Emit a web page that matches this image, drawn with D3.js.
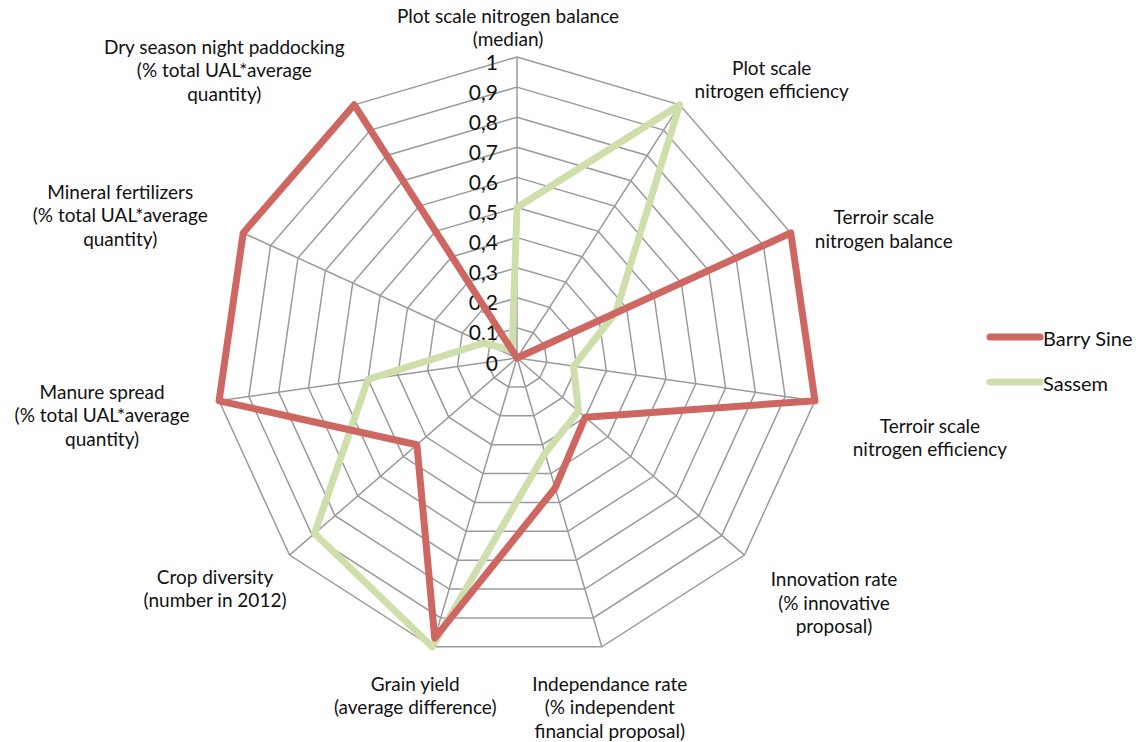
<!DOCTYPE html>
<html>
<head>
<meta charset="utf-8">
<script src="https://cdn.jsdelivr.net/npm/d3@7"></script>
<style>
  html, body { margin: 0; padding: 0; background: #fff; }
  svg { display: block; }
  text { font-family: Lato, "Open Sans", sans-serif; fill: #111; }
</style>
</head>
<body>
<svg id="chart" width="1142" height="742"></svg>
<script>
// ---- data ----
const categories = [
  "Plot scale nitrogen balance\n(median)",
  "Plot scale\nnitrogen efficiency",
  "Terroir scale\nnitrogen balance",
  "Terroir scale\nnitrogen efficiency",
  "Innovation rate\n(% innovative\nproposal)",
  "Independance rate\n(% independent\nfinancial proposal)",
  "Grain yield\n(average difference)",
  "Crop diversity\n(number in 2012)",
  "Manure spread\n(% total UAL*average\nquantity)",
  "Mineral fertilizers\n(% total UAL*average\nquantity)",
  "Dry season night paddocking\n(% total UAL*average\nquantity)"
];
const seriesNames = ["Barry Sine", "Sassem"];
const barrySine = [0, 0, 1, 1, 0.3, 0.45, 0.97, 0.44, 1, 1, 1];
const sassem    = [0.5, 1, 0.36, 0.19, 0.27, 0.33, 1, 0.89, 0.5, 0.12, 0.03];
const tickValues = [0, 0.1, 0.2, 0.3, 0.4, 0.5, 0.6, 0.7, 0.8, 0.9, 1];
const tickLabels = ["0", "0,1", "0,2", "0,3", "0,4", "0,5", "0,6", "0,7", "0,8", "0,9", "1"];

// ---- layout ----
const cx = 517, cy = 358, R = 301;
const colors = { "Barry Sine": "#CE6761", "Sassem": "#CFDFAC" };
// label block centre offsets from the outer vertex of each spoke
const labelOffsets = [[-9,-30],[92,-26],[93,-4.5],[115,36],[89.5,47],[8,60],[-17,48],[-74.5,33],[-117,14],[-123,-18],[-130,-35]];
const lineH = 23.5;

const svg = d3.select("#chart");
const g = svg.append("g").attr("transform", `translate(${cx},${cy})`);

const r = d3.scaleLinear().domain([0, 1]).range([0, R]);
const angle = d3.scaleLinear().domain([0, categories.length]).range([0, 2 * Math.PI]);
const pt = (i, v) => [r(v) * Math.sin(angle(i)), -r(v) * Math.cos(angle(i))];

// grid polygons
const gridLine = d3.lineRadial()
  .angle((d, i) => angle(i))
  .radius(d => r(d))
  .curve(d3.curveLinearClosed);

tickValues.filter(v => v > 0).forEach(v => {
  g.append("path")
    .attr("d", gridLine(categories.map(() => v)))
    .attr("fill", "none")
    .attr("stroke", "#9a9a9a")
    .attr("stroke-width", 1.5);
});
// spokes
categories.forEach((c, i) => {
  const [x, y] = pt(i, 1);
  g.append("line").attr("x1", 0).attr("y1", 0).attr("x2", x).attr("y2", y)
    .attr("stroke", "#9a9a9a").attr("stroke-width", 1.5);
});

// tick labels
tickValues.forEach((v, i) => {
  g.append("text")
    .attr("x", -19)
    .attr("y", -r(v) + 4)
    .attr("text-anchor", "end")
    .attr("dominant-baseline", "central")
    .style("font-size", "21px")
    .text(tickLabels[i]);
});

// series
const seriesLine = d3.lineRadial()
  .angle((d, i) => angle(i))
  .radius(d => r(d))
  .curve(d3.curveLinearClosed);

[["Sassem", sassem], ["Barry Sine", barrySine]].forEach(([name, vals]) => {
  g.append("path")
    .attr("d", seriesLine(vals))
    .attr("fill", "none")
    .attr("stroke", colors[name])
    .attr("stroke-width", 7)
    .attr("stroke-linejoin", "round")
    .attr("stroke-linecap", "round");
});

// axis labels
categories.forEach((c, i) => {
  const [x, y] = pt(i, 1);
  const lines = c.split("\n");
  const bx = x + labelOffsets[i][0], by = y + labelOffsets[i][1];
  const t = g.append("text").attr("text-anchor", "middle").style("font-size", "19px");
  lines.forEach((ln, k) => {
    t.append("tspan")
      .attr("x", bx)
      .attr("y", by + (k - (lines.length - 1) / 2) * lineH)
      .attr("dominant-baseline", "central")
      .text(ln);
  });
});

// legend
const legend = svg.append("g").attr("transform", "translate(990,337)");
seriesNames.forEach((name, i) => {
  const row = legend.append("g").attr("transform", `translate(0,${i * 45})`);
  row.append("line").attr("x1", 0).attr("x2", 50).attr("y1", 0).attr("y2", 0)
    .attr("stroke", colors[name]).attr("stroke-width", 7).attr("stroke-linecap", "round");
  row.append("text").attr("x", 53).attr("y", 1)
    .attr("dominant-baseline", "central")
    .style("font-size", "20px")
    .text(name);
});
</script>
</body>
</html>
